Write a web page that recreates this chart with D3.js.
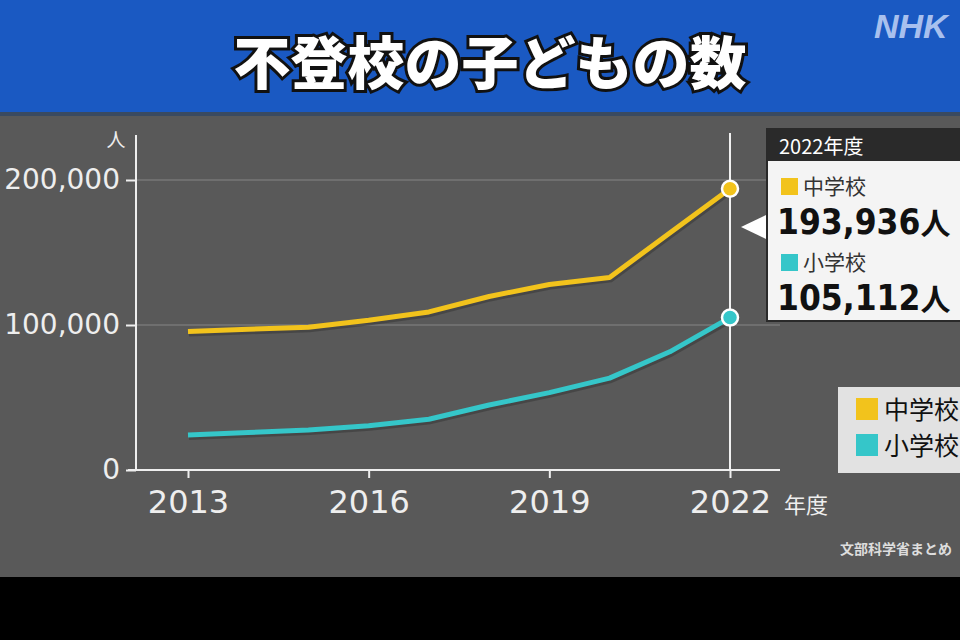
<!DOCTYPE html>
<html><head><meta charset="utf-8">
<script src="https://cdn.jsdelivr.net/npm/d3@7"></script>
<style>html,body{margin:0;padding:0;background:#000;}svg{display:block;}</style>
</head><body>
<script>
const years = [2013,2014,2015,2016,2017,2018,2019,2020,2021,2022];
const juniorHigh = [95442,97033,98408,103235,108999,119687,127922,132777,163442,193936];
const elementary = [24175,25864,27583,30448,35032,44841,53350,63350,81498,105112];
const xTicks = [2013,2016,2019,2022];
const yTicks = [0,100000,200000];
const seriesNames = ["中学校","小学校"];
const colors = ["#f2c31c","#35c6c9"];

const W=960,H=640;
const svg=d3.select("body").append("svg").attr("width",W).attr("height",H);
const font="'Noto Sans CJK JP','Noto Sans',sans-serif";
const numFont="'DejaVu Sans',sans-serif";
svg.append("rect").attr("width",W).attr("height",H).attr("fill","#000");
svg.append("rect").attr("y",115).attr("width",W).attr("height",462).attr("fill","#595959");
svg.append("rect").attr("width",W).attr("height",115).attr("fill","#1a59c2");
svg.append("rect").attr("y",112).attr("width",W).attr("height",4).attr("fill","#3a4a60");

svg.append("text").attr("x",490).attr("y",84).attr("text-anchor","middle")
 .attr("font-family",font).attr("font-weight",900).attr("font-size",57)
 .attr("fill","#fff").attr("stroke","#111").attr("stroke-width",6).attr("paint-order","stroke")
 .text("不登校の子どもの数");
svg.append("text").attr("x",874).attr("y",38).attr("font-family","'Liberation Sans',sans-serif")
 .attr("font-weight",700).attr("font-style","italic").attr("font-size",34).attr("fill","#a8c0ee").text("NHK");

const x=d3.scaleLinear().domain([2013,2022]).range([188,730]);
const y=d3.scaleLinear().domain([0,200000]).range([470,180]);

// gridlines
svg.append("g").selectAll("line").data(yTicks.filter(d=>d>0)).join("line")
 .attr("x1",136).attr("x2",780).attr("y1",d=>y(d)).attr("y2",d=>y(d))
 .attr("stroke","#777").attr("stroke-width",1.5);

// axes
const yAxis=svg.append("g").attr("transform","translate(136,0)")
 .call(d3.axisLeft(y).tickValues(yTicks).tickFormat(d3.format(",")).tickSize(10).tickPadding(6));
yAxis.select(".domain").attr("d","M0,135V470").attr("stroke","#eee").attr("stroke-width",2);
yAxis.selectAll(".tick line").attr("stroke","#eee").attr("stroke-width",2);
yAxis.selectAll("text").attr("fill","#eee").attr("font-family",numFont).attr("font-size",28);

const xAxis=svg.append("g").attr("transform","translate(0,470)")
 .call(d3.axisBottom(x).tickValues(xTicks).tickFormat(d3.format("d")).tickSize(8).tickPadding(8));
xAxis.select(".domain").attr("d","M128,0H780").attr("stroke","#eee").attr("stroke-width",2);
xAxis.selectAll(".tick line").attr("stroke","#eee").attr("stroke-width",2);
xAxis.selectAll("text").attr("fill","#eee").attr("font-family",numFont).attr("font-size",32).attr("dy","0.85em");

svg.append("text").attr("x",116).attr("y",147).attr("text-anchor","middle").attr("fill","#eee")
 .attr("font-family",font).attr("font-size",19).text("人");
svg.append("text").attr("x",784).attr("y",513).attr("fill","#eee")
 .attr("font-family",font).attr("font-size",22).text("年度");
svg.append("text").attr("x",952).attr("y",554).attr("text-anchor","end").attr("fill","#ddd")
 .attr("font-family",font).attr("font-weight",700).attr("font-size",14).text("文部科学省まとめ");

// vertical marker at 2022
svg.append("line").attr("x1",x(2022)).attr("x2",x(2022)).attr("y1",133).attr("y2",470)
 .attr("stroke","#f0f0f0").attr("stroke-width",2);

const line=d3.line().x((d,i)=>x(years[i])).y(d=>y(d));
[juniorHigh,elementary].forEach((s,k)=>{
  svg.append("path").attr("d",line(s)).attr("fill","none").attr("stroke","#3a3a3a").attr("stroke-width",7)
   .attr("transform","translate(1,1.5)").attr("opacity",0.6);
  svg.append("path").attr("d",line(s)).attr("fill","none").attr("stroke",colors[k]).attr("stroke-width",5)
   .attr("stroke-linejoin","round");
  svg.append("circle").attr("cx",x(2022)).attr("cy",y(s[s.length-1])).attr("r",8)
   .attr("fill",colors[k]).attr("stroke","#fff").attr("stroke-width",2.5);
});

// tooltip box
const tb=svg.append("g");
tb.append("rect").attr("x",766).attr("y",128).attr("width",200).attr("height",194).attr("fill","#2a2a2a");
tb.append("rect").attr("x",768).attr("y",161).attr("width",200).attr("height",159).attr("fill","#f4f4f4");
tb.append("path").attr("d","M741,227L766,215L766,239Z").attr("fill","#fff");
tb.append("text").attr("x",779).attr("y",154).attr("fill","#fff").attr("font-family",font).attr("font-size",20).text("2022年度");
const vals=[juniorHigh[juniorHigh.length-1],elementary[elementary.length-1]];
seriesNames.forEach((n,k)=>{
  const by=174+k*76;
  tb.append("rect").attr("x",781).attr("y",by+4).attr("width",17).attr("height",17).attr("fill",colors[k]);
  tb.append("text").attr("x",803).attr("y",by+20).attr("fill","#333").attr("font-family",font).attr("font-size",21).text(n);
  const t=tb.append("text").attr("x",777).attr("y",by+60).attr("fill","#111")
   .attr("font-family","'DejaVu Sans Condensed','DejaVu Sans',sans-serif")
   .attr("font-weight",700).attr("font-size",35);
  t.append("tspan").text(d3.format(",")(vals[k]));
  t.append("tspan").attr("font-family",font).attr("font-size",30).text("人");
});

// legend
const lg=svg.append("g");
lg.append("rect").attr("x",838).attr("y",387).attr("width",130).attr("height",86).attr("fill","#e2e2e2");
seriesNames.forEach((n,k)=>{
  const ly=398+k*36;
  lg.append("rect").attr("x",856).attr("y",ly).attr("width",22).attr("height",22).attr("fill",colors[k]);
  lg.append("text").attr("x",884).attr("y",ly+21).attr("fill","#111").attr("font-family",font).attr("font-size",25).text(n);
});
</script>
</body></html>
